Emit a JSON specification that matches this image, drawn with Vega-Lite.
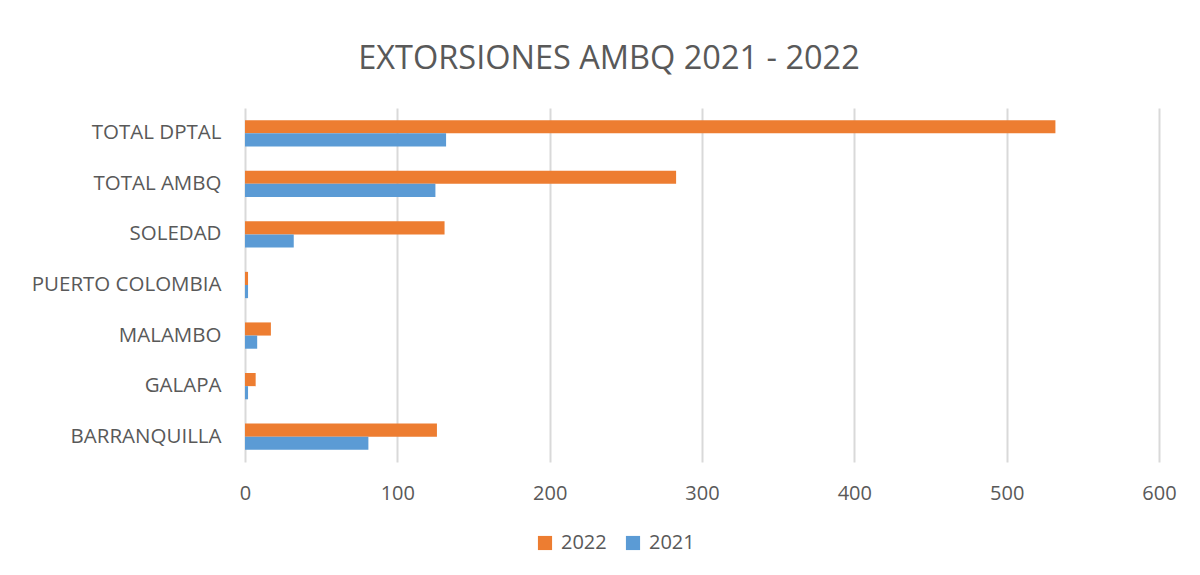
{
  "$schema": "https://vega.github.io/schema/vega-lite/v6.json",
  "autosize": {"type": "none"},
  "width": 914,
  "height": 354,
  "padding": {"left": 245, "top": 108, "right": 41, "bottom": 113},
  "background": "white",
  "title": {
    "text": "EXTORSIONES AMBQ 2021 - 2022",
    "font": "Open Sans",
    "fontSize": 32.5,
    "fontWeight": "normal",
    "color": "#595959",
    "anchor": "middle",
    "dx": -93,
    "offset": 33
  },
  "data": {
    "values": [
      {"municipio": "TOTAL DPTAL", "year": "2022", "value": 532},
      {"municipio": "TOTAL DPTAL", "year": "2021", "value": 132},
      {"municipio": "TOTAL AMBQ", "year": "2022", "value": 283},
      {"municipio": "TOTAL AMBQ", "year": "2021", "value": 125},
      {"municipio": "SOLEDAD", "year": "2022", "value": 131},
      {"municipio": "SOLEDAD", "year": "2021", "value": 32},
      {"municipio": "PUERTO COLOMBIA", "year": "2022", "value": 2},
      {"municipio": "PUERTO COLOMBIA", "year": "2021", "value": 2},
      {"municipio": "MALAMBO", "year": "2022", "value": 17},
      {"municipio": "MALAMBO", "year": "2021", "value": 8},
      {"municipio": "GALAPA", "year": "2022", "value": 7},
      {"municipio": "GALAPA", "year": "2021", "value": 2},
      {"municipio": "BARRANQUILLA", "year": "2022", "value": 126},
      {"municipio": "BARRANQUILLA", "year": "2021", "value": 81}
    ]
  },
  "mark": {"type": "bar"},
  "encoding": {
    "y": {
      "field": "municipio",
      "type": "nominal",
      "sort": ["TOTAL DPTAL", "TOTAL AMBQ", "SOLEDAD", "PUERTO COLOMBIA", "MALAMBO", "GALAPA", "BARRANQUILLA"],
      "scale": {"paddingInner": 0.48, "paddingOuter": 0.24},
      "axis": {
        "title": null,
        "domain": false,
        "ticks": false,
        "grid": false,
        "labelFont": "Open Sans",
        "labelFontSize": 20.5,
        "labelColor": "#595959",
        "labelPadding": 24,
        "labelLimit": 400
      }
    },
    "yOffset": {
      "field": "year",
      "type": "nominal",
      "sort": ["2022", "2021"]
    },
    "x": {
      "field": "value",
      "type": "quantitative",
      "scale": {"domain": [0, 600], "nice": false},
      "axis": {
        "title": null,
        "values": [0, 100, 200, 300, 400, 500, 600],
        "domain": false,
        "ticks": false,
        "grid": true,
        "gridColor": "#d9d9d9",
        "gridWidth": 2,
        "labelFlush": false,
        "labelFont": "Open Sans",
        "labelFontSize": 20,
        "labelColor": "#595959",
        "labelPadding": 21
      }
    },
    "color": {
      "field": "year",
      "type": "nominal",
      "sort": ["2022", "2021"],
      "scale": {"domain": ["2022", "2021"], "range": ["#ED7D31", "#5B9BD5"]},
      "legend": {
        "title": null,
        "orient": "none",
        "direction": "horizontal",
        "legendX": 290,
        "legendY": 425,
        "symbolType": "square",
        "symbolSize": 200,
        "symbolStrokeWidth": 0,
        "labelFont": "Open Sans",
        "labelFontSize": 20,
        "labelColor": "#595959",
        "columnPadding": 16,
        "labelOffset": 6
      }
    }
  },
  "config": {"view": {"stroke": null}}
}
